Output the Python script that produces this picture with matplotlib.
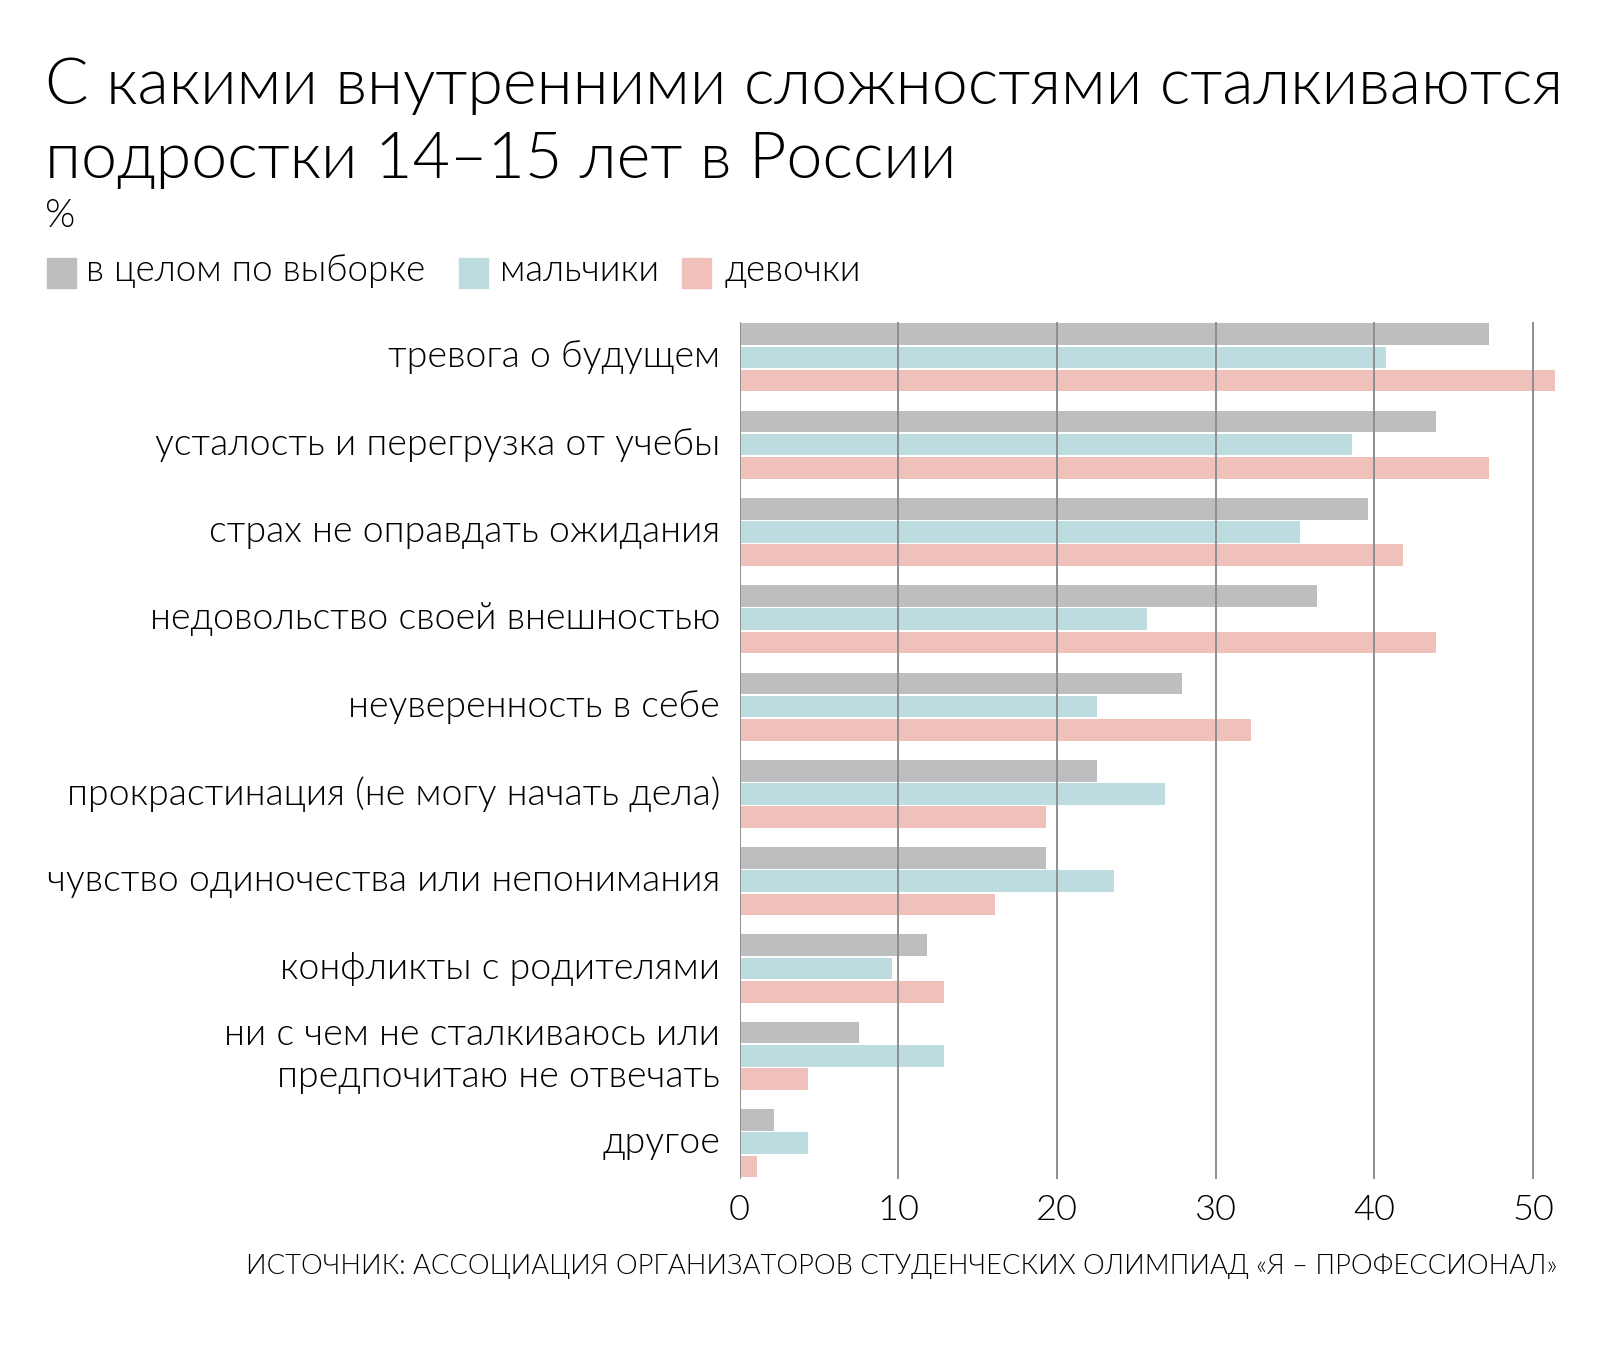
import numpy as np
import matplotlib.pyplot as plt
from matplotlib.patches import Rectangle

plt.rcParams['font.family'] = ['Lato', 'DejaVu Sans']
plt.rcParams['font.weight'] = 300
plt.rcParams['text.color'] = 'black'

# ----- data
categories = ['тревога о будущем',
              'усталость и перегрузка от учебы',
              'страх не оправдать ожидания',
              'недовольство своей внешностью',
              'неуверенность в себе',
              'прокрастинация (не могу начать дела)',
              'чувство одиночества или непонимания',
              'конфликты с родителями',
              'ни с чем не сталкиваюсь или\nпредпочитаю не отвечать',
              'другое']
total = [47.2, 43.9, 39.6, 36.4, 27.9, 22.5, 19.3, 11.8, 7.5, 2.2]
boys = [40.7, 38.6, 35.3, 25.7, 22.5, 26.8, 23.6, 9.6, 12.9, 4.3]
girls = [51.4, 47.2, 41.8, 43.9, 32.2, 19.3, 16.1, 12.9, 4.3, 1.1]
series_names = ['в целом по выборке', 'мальчики', 'девочки']
colors = ['#bdbec0', '#bddcdf', '#f0c1ba']
xticks = [0, 10, 20, 30, 40, 50]

fig = plt.figure(figsize=(16.24, 13.5), dpi=100)
ax = fig.add_axes([0.4554, 0.1267, 0.5043, 0.6348])

y = np.arange(len(categories))
step = 0.266
h = 0.248
for k, vals in enumerate([total, boys, girls]):
    ax.barh(y + (k - 1) * step, vals, height=h, color=colors[k], zorder=2)

ax.set_xlim(0, 51.6)
ax.set_ylim(9.41, -0.405)
ax.set_xticks(xticks)
ax.set_xticklabels([str(t) for t in xticks], fontsize=26, color='black')
ax.set_yticks(y)
ax.set_yticklabels(categories, fontsize=27, linespacing=1.3, color='black')
for lab in ax.get_yticklabels():
    lab.set_verticalalignment('center')
ax.tick_params(axis='both', length=0)
ax.tick_params(axis='x', pad=11)
ax.tick_params(axis='y', pad=14)
for s in ax.spines.values():
    s.set_visible(False)
for t in xticks:
    ax.axvline(t, color='#8e8e8e', lw=1.4, zorder=3)

# ----- title
fig.text(0.028, 1 - 104 / 1350, 'С какими внутренними сложностями сталкиваются',
         fontsize=46.5, va='baseline', ha='left')
fig.text(0.028, 1 - 178 / 1350, 'подростки 14–15 лет в России',
         fontsize=46.5, va='baseline', ha='left')
fig.text(0.028, 1 - 216 / 1350, '%', fontsize=28, va='center', ha='left')

# ----- legend
sq_x = [46.6, 459, 682.5]
tx_x = [86, 500, 725]
for k in range(3):
    fig.patches.append(Rectangle((sq_x[k] / 1624, 1 - 288 / 1350), 29 / 1624, 30 / 1350,
                                 transform=fig.transFigure, color=colors[k]))
    fig.text(tx_x[k] / 1624, 1 - 271 / 1350, series_names[k], fontsize=26.5,
             va='center', ha='left')

# ----- source
fig.text(1557 / 1624, 1 - 1266 / 1350,
         'ИСТОЧНИК: АССОЦИАЦИЯ ОРГАНИЗАТОРОВ СТУДЕНЧЕСКИХ ОЛИМПИАД «Я – ПРОФЕССИОНАЛ»',
         fontsize=19.7, va='center', ha='right')

plt.savefig('out.png', dpi=100)
